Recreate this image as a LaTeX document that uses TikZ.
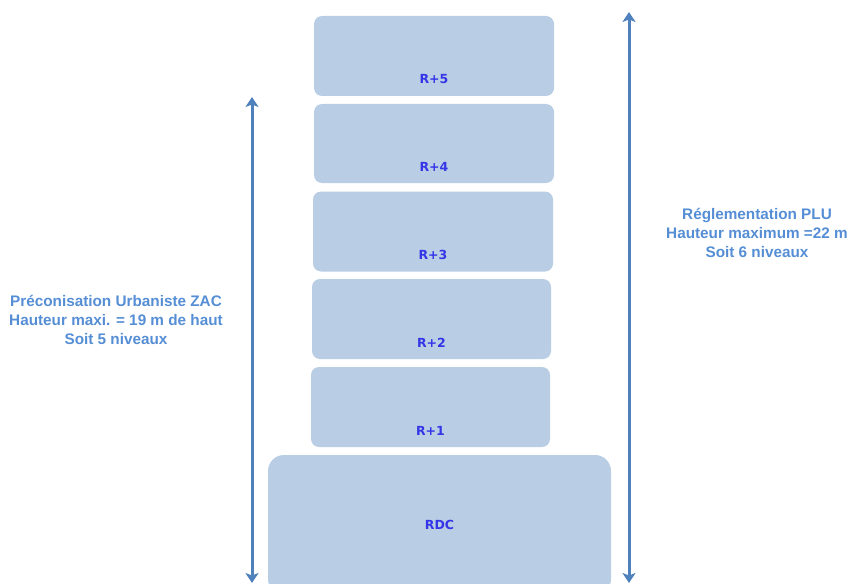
\documentclass[tikz,border=0pt]{standalone}
\usepackage{fontspec}
\setmainfont{Liberation Sans}
\newfontfamily\floorfont{DejaVu Sans}
\usepackage{xcolor}
\usetikzlibrary{arrows.meta}

\definecolor{floorfill}{HTML}{B9CDE5}
\definecolor{floortext}{HTML}{3535E8}
\definecolor{arrowblue}{HTML}{4F81BD}
\definecolor{notetext}{HTML}{558ED5}

\begin{document}
\begin{tikzpicture}[x=1pt, y=-1pt,
  floor/.style={fill=floorfill, rounded corners=8pt, inner sep=0pt, minimum width=240pt,
    text height=68pt, text depth=12pt, text=floortext, font=\floorfont\bfseries\fontsize{12.5}{14}\selectfont},
  heightarrow/.style={draw=arrowblue, line width=3pt, {Stealth[length=10pt,width=13pt,inset=2.5pt]}-{Stealth[length=10pt,width=13pt,inset=2.5pt]}},
  note/.style={text=notetext, align=center, font=\bfseries\fontsize{15.3}{19}\selectfont}]
\clip (0,0) rectangle (850,583);
% floors
\node[floor] (r5) at (434,56) {R+5};
\node[floor, minimum height=79pt, text depth=12pt, text height=67pt] (r4) at (434,143.5) {R+4};
\node[floor] (r3) at (433,231.5) {R+3};
\node[floor, minimum width=239pt] (r2) at (431.5,319) {R+2};
\node[floor, minimum width=239pt] (r1) at (430.5,407) {R+1};
\node[floor, rounded corners=16pt, minimum width=343pt, minimum height=140pt,
  text height=9pt, text depth=0pt] (rdc) at (439.5,525) {RDC};
% heights
\coordinate (zacTop) at (252,97);
\coordinate (zacBot) at (252,583);
\coordinate (pluTop) at (629,12);
\coordinate (pluBot) at (629,583);
\draw[heightarrow] (zacBot) -- (zacTop);
\draw[heightarrow] (pluBot) -- (pluTop);
\node[note] (zac) at (116,320) {Préconisation Urbaniste ZAC\\Hauteur maxi. = 19 m de haut\\Soit 5 niveaux};
\node[note] (plu) at (757,233) {Réglementation PLU\\Hauteur maximum =22 m\\Soit 6 niveaux};
\end{tikzpicture}
\end{document}
